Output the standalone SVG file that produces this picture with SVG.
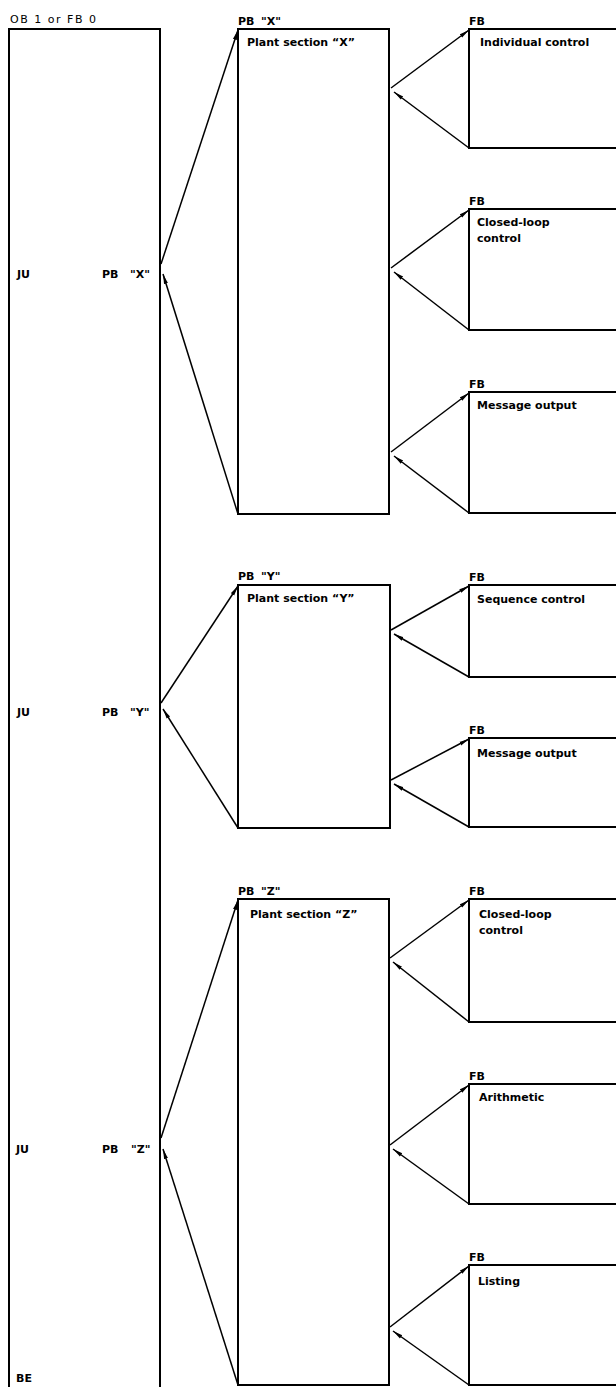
<svg xmlns="http://www.w3.org/2000/svg" width="616" height="1387" viewBox="0 0 616 1387">
<style>
.box{fill:none;stroke:#000;stroke-width:2}
.arr{fill:none;stroke:#000;stroke-width:1.5;marker-end:url(#ah)}
text{font-family:"DejaVu Sans","Liberation Sans",sans-serif;font-size:11px;font-weight:bold;fill:#000}
.lt{font-weight:normal}
</style>
<defs>
<marker id="ah" markerUnits="userSpaceOnUse" markerWidth="11" markerHeight="6" refX="10" refY="2.5" orient="auto">
<path d="M0,0.5 L10,2.5 L0,4.5 z" fill="#000"/>
</marker>
</defs>
<rect width="616" height="1387" fill="#fff"/>

<g id="main">
<path class="box" d="M9,1395 V29 H160 V1395"/>
<text class="lt" x="10" y="23" textLength="86" lengthAdjust="spacing">OB 1 or FB 0</text>
<text x="17" y="278">JU</text><text x="102" y="278">PB</text><text x="130" y="278">"X"</text>
<text x="17" y="716">JU</text><text x="102" y="716">PB</text><text x="130" y="716">"Y"</text>
<text x="16" y="1153">JU</text><text x="102" y="1153">PB</text><text x="131" y="1153">"Z"</text>
<text x="16" y="1382">BE</text>
</g>

<g id="plantX">
<rect class="box" x="238" y="29" width="151" height="485"/>
<text x="238" y="25">PB</text><text x="261" y="25">"X"</text>
<text x="247" y="46">Plant section “X”</text>
</g>
<g id="plantY">
<rect class="box" x="238" y="585" width="152" height="243"/>
<text x="238" y="580">PB</text><text x="261" y="580">"Y"</text>
<text x="247" y="602">Plant section “Y”</text>
</g>
<g id="plantZ">
<rect class="box" x="238" y="899" width="151" height="486"/>
<text x="238" y="895">PB</text><text x="261" y="895">"Z"</text>
<text x="250" y="918">Plant section “Z”</text>
</g>

<g id="fb1">
<rect class="box" x="469" y="29" width="170" height="119"/>
<text x="469" y="25">FB</text>
<text x="480" y="46">Individual control</text>
</g>
<g id="fb2">
<rect class="box" x="469" y="209" width="170" height="121"/>
<text x="469" y="205">FB</text>
<text x="477" y="226">Closed-loop</text>
<text x="477" y="242">control</text>
</g>
<g id="fb3">
<rect class="box" x="469" y="392" width="170" height="121"/>
<text x="469" y="388">FB</text>
<text x="477" y="409">Message output</text>
</g>
<g id="fb4">
<rect class="box" x="469" y="585" width="170" height="92"/>
<text x="469" y="581">FB</text>
<text x="477" y="603">Sequence control</text>
</g>
<g id="fb5">
<rect class="box" x="469" y="738" width="170" height="89"/>
<text x="469" y="734">FB</text>
<text x="477" y="757">Message output</text>
</g>
<g id="fb6">
<rect class="box" x="469" y="899" width="170" height="123"/>
<text x="469" y="895">FB</text>
<text x="479" y="918">Closed-loop</text>
<text x="479" y="934">control</text>
</g>
<g id="fb7">
<rect class="box" x="469" y="1084" width="170" height="120"/>
<text x="469" y="1080">FB</text>
<text x="479" y="1101">Arithmetic</text>
</g>
<g id="fb8">
<rect class="box" x="469" y="1265" width="170" height="120"/>
<text x="469" y="1261">FB</text>
<text x="478" y="1285">Listing</text>
</g>

<g id="connectors">
<line class="arr" x1="161" y1="264" x2="238" y2="30"/>
<line class="arr" x1="238" y1="514" x2="163" y2="274"/>
<line class="arr" x1="161" y1="703" x2="238" y2="586"/>
<line class="arr" x1="238" y1="828" x2="163" y2="709"/>
<line class="arr" x1="161" y1="1138" x2="238" y2="900"/>
<line class="arr" x1="238" y1="1385" x2="163" y2="1149"/>

<line class="arr" x1="391" y1="88" x2="469" y2="30"/>
<line class="arr" x1="469" y1="148" x2="394" y2="92"/>
<line class="arr" x1="391" y1="268" x2="469" y2="210"/>
<line class="arr" x1="469" y1="330" x2="394" y2="272"/>
<line class="arr" x1="391" y1="452" x2="469" y2="393"/>
<line class="arr" x1="469" y1="513" x2="394" y2="456"/>

<line class="arr" x1="391" y1="630" x2="469" y2="586"/>
<line class="arr" x1="469" y1="677" x2="394" y2="634"/>
<line class="arr" x1="391" y1="780" x2="469" y2="739"/>
<line class="arr" x1="469" y1="827" x2="394" y2="784"/>

<line class="arr" x1="390" y1="958" x2="469" y2="900"/>
<line class="arr" x1="469" y1="1022" x2="393" y2="962"/>
<line class="arr" x1="390" y1="1145" x2="469" y2="1085"/>
<line class="arr" x1="469" y1="1204" x2="393" y2="1149"/>
<line class="arr" x1="390" y1="1327" x2="469" y2="1266"/>
<line class="arr" x1="469" y1="1385" x2="393" y2="1331"/>
</g>
</svg>
